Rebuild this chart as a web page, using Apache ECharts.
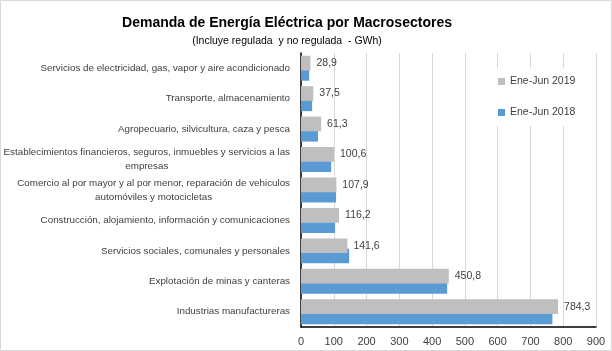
<!DOCTYPE html>
<html>
<head>
<meta charset="utf-8">
<script src="https://cdn.jsdelivr.net/npm/echarts@6/dist/echarts.min.js"></script>
<style>
  html, body { margin: 0; padding: 0; background: #fff; }
  #chart { width: 612px; height: 351px; }
</style>
</head>
<body>
<div id="chart"></div>
<script>
// categories, bottom to top (as on the axis)
const categories = [
  "Industrias manufactureras",
  "Explotación de minas y canteras",
  "Servicios sociales, comunales y personales",
  "Construcción, alojamiento, información y comunicaciones",
  "Comercio al por mayor y al por menor, reparación de vehiculos\nautomóviles y motocicletas",
  "Establecimientos financieros, seguros, inmuebles y servicios a las\nempresas",
  "Agropecuario, silvicultura, caza y pesca",
  "Transporte, almacenamiento",
  "Servicios de electricidad, gas, vapor y aire acondicionado",
];
const values2019 = [784.3, 450.8, 141.6, 116.2, 107.9, 100.6, 61.3, 37.5, 28.9];
const values2018 = [767, 446, 147, 104, 107, 92, 52, 34, 25];
const xTicks = [0, 100, 200, 300, 400, 500, 600, 700, 800, 900];

const FONT = "'Liberation Sans', Arial, sans-serif";

const chart = echarts.init(document.getElementById("chart"));

const option = {
  backgroundColor: "#fff",
  animation: false,
  title: {
    text: "Demanda de Energía Eléctrica por Macrosectores",
    subtext: "(Incluye regulada  y no regulada  - GWh)",
    left: 282,
    textAlign: "center",
    top: 11,
    itemGap: 6,
    textStyle: { fontFamily: FONT, fontSize: 14, fontWeight: "bold", color: "#000" },
    subtextStyle: { fontFamily: FONT, fontSize: 10.5, color: "#000" },
  },
  legend: {
    orient: "vertical",
    left: 490,
    top: 68,
    padding: [8, 12, 8, 8],
    itemGap: 20,
    itemWidth: 7,
    itemHeight: 7,
    icon: "rect",
    backgroundColor: "#fff",
    data: ["Ene-Jun 2019", "Ene-Jun 2018"],
    textStyle: { fontFamily: FONT, fontSize: 10.5, color: "#404040" },
  },
  grid: { left: 301, right: 16, top: 53, bottom: 24, containLabel: false, outerBoundsMode: "none" },
  xAxis: {
    type: "value",
    min: 0,
    max: 900,
    interval: 100,
    axisLine: { show: true, lineStyle: { color: "#000", width: 1.5 } },
    axisTick: { show: false },
    splitLine: { lineStyle: { color: "#d9d9d9" } },
    axisLabel: {
      fontFamily: FONT, fontSize: 11, color: "#404040", margin: 9,
      formatter: (v) => (xTicks.includes(v) ? String(v) : ""),
    },
  },
  yAxis: {
    type: "category",
    data: categories,
    axisLine: { show: true, lineStyle: { color: "#000", width: 1.5 } },
    axisTick: { show: false },
    axisLabel: {
      fontFamily: FONT, fontSize: 9.8, color: "#404040", margin: 11,
      lineHeight: 14,
      formatter: (v) => {
        const parts = v.split("\n");
        if (parts.length === 1) return v;
        return "{a|" + parts[0] + "}\n{c|" + parts[1] + "}";
      },
      rich: {
        a: { fontFamily: FONT, fontSize: 9.8, color: "#404040", lineHeight: 14 },
        c: { fontFamily: FONT, fontSize: 9.8, color: "#404040", lineHeight: 14, align: "center" },
      },
    },
  },
  series: [
    {
      name: "Ene-Jun 2019",
      type: "bar",
      data: values2019,
      z: 3,
      itemStyle: { color: "#bfbfbf" },
      barGap: "-30%",
      barCategoryGap: "18%",
      label: {
        show: true,
        position: "right",
        distance: 6,
        fontFamily: FONT,
        fontSize: 10.5,
        color: "#404040",
        formatter: (p) => p.value.toFixed(1).replace(".", ","),
      },
    },
    {
      name: "Ene-Jun 2018",
      type: "bar",
      data: values2018,
      z: 2,
      itemStyle: { color: "#5b9bd5" },
      barGap: "-30%",
      barCategoryGap: "18%",
    },
  ],
  graphic: [
    {
      type: "rect",
      shape: { x: 0.5, y: 0.5, width: 611, height: 350 },
      style: { fill: "none", stroke: "#d9d9d9", lineWidth: 1 },
      z: 100,
    },
  ],
};

chart.setOption(option);
</script>
</body>
</html>
